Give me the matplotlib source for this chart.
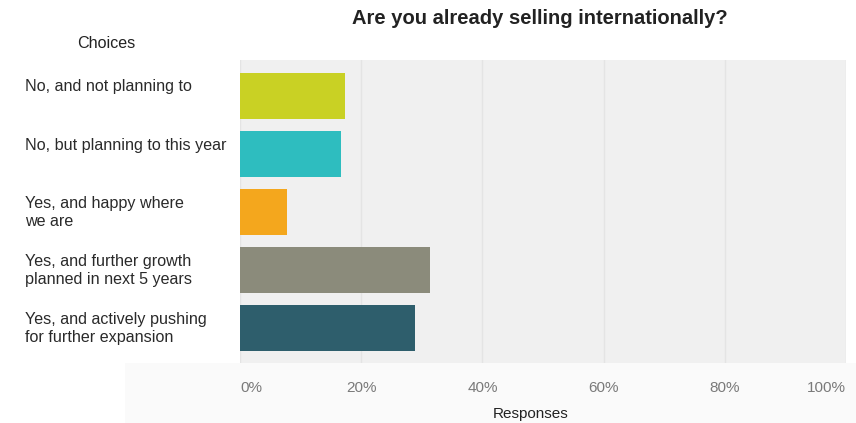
import matplotlib.pyplot as plt
from matplotlib.patches import Rectangle

plt.rcParams['font.family'] = ['Liberation Sans', 'DejaVu Sans']

# Data
choices = [
    'No, and not planning to',
    'No, but planning to this year',
    'Yes, and happy where\nwe are',
    'Yes, and further growth\nplanned in next 5 years',
    'Yes, and actively pushing\nfor further expansion',
]
shares = [17.4, 16.7, 7.8, 31.4, 28.8]
colors = ['#c9d124', '#2ebdbf', '#f4a71d', '#8b8b7b', '#2e5e6c']
xticks = [0, 20, 40, 60, 80, 100]
xtick_labels = ['0%', '20%', '40%', '60%', '80%', '100%']

fig = plt.figure(figsize=(8.56, 4.23), dpi=100)
fig.patch.set_facecolor('white')

# faint shading behind the tick label area
fig.add_artist(Rectangle((125 / 856, 0), 1, 60 / 423, transform=fig.transFigure,
                         facecolor='#fafafa', edgecolor='none', zorder=-5))

ax = fig.add_axes([240 / 856, 1 - 363 / 423, 606 / 856, 303 / 423])
ax.set_facecolor('#f0f0f0')

ypos = list(range(len(choices)))
ax.barh(ypos, shares, height=0.79, color=colors, zorder=3)

ax.set_xlim(0, 100)
ax.set_ylim(4.6, -0.62)
ax.set_xticks(xticks)
ax.set_xticklabels(xtick_labels, fontsize=11, color='#7a7a7a')
labels = ax.get_xticklabels()
labels[0].set_ha('left')
labels[-1].set_ha('right')
ax.set_yticks([])
ax.tick_params(axis='x', length=0, pad=13)
ax.grid(axis='x', color='#e4e4e4', linewidth=1, zorder=1)
for s in ax.spines.values():
    s.set_visible(False)

fig.text(531 / 856, 1 - 414 / 423, 'Responses', ha='center', va='center',
         fontsize=11, color='#222222')

# category labels on the left, one text per line
fig.canvas.draw()
for i, label in enumerate(choices):
    yc = ax.transData.transform((0, i))[1] + 9
    for k, line in enumerate(label.split('\n')):
        fig.text(25 / 856, (yc - k * 18.5) / 423, line, ha='left', va='center',
                 fontsize=11.6, color='#2a2a2a')

fig.text(77 / 856, 1 - 44 / 423, 'Choices', ha='left', va='center', fontsize=11.6, color='#222222')
fig.text(540 / 856, 1 - 19 / 423, 'Are you already selling internationally?',
         ha='center', va='center', fontsize=14.5, fontweight='bold', color='#222222')

fig.savefig('out.png', dpi=100)
